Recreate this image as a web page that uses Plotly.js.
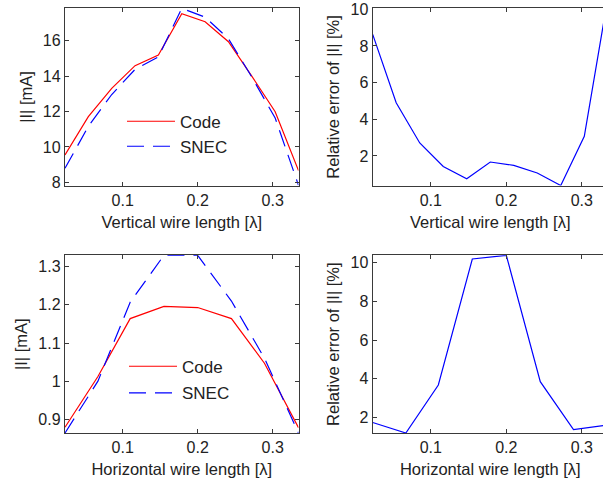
<!DOCTYPE html>
<html><head><meta charset="utf-8">
<script src="https://cdn.plot.ly/plotly-3.0.1.min.js"></script>
<style>html,body{margin:0;padding:0;overflow:hidden;background:#fff}#c{width:610px;height:483px}</style>
</head><body><div id="c"></div>
<script>
// Vertical wire length sweep
var xV = [0.0231,0.0542,0.0854,0.1165,0.1476,0.1788,0.2099,0.2410,0.2721,0.3033,0.3344];
var codeV = [9.55,11.71,13.31,14.59,15.19,17.53,17.07,15.94,14.0,11.99,8.66];
var snecV = [8.79,11.16,12.96,14.38,15.08,17.83,17.33,16.11,13.95,11.63,7.83];
var errV = [8.63,4.9,2.71,1.43,0.76,1.67,1.49,1.07,0.39,3.07,10.6];
// Horizontal wire length sweep
var xH = [0.0231,0.067,0.110,0.155,0.200,0.245,0.289,0.3344];
var codeH = [0.879,1.012,1.164,1.196,1.193,1.164,1.047,0.878];
var snecH = [0.864,1.0,1.207,1.33,1.33,1.21,1.06,0.864];
var errH = [1.74,1.2,3.68,10.19,10.38,3.85,1.37,1.62];
var xTicks = [0.1,0.2,0.3];
var xTitleV = 'Vertical wire length [λ]';
var xTitleH = 'Horizontal wire length [λ]';
var yTitleI = '|I| [mA]';
var yTitleErr = 'Relative error of |I| [%]';

var W = 610, H = 483;
var FONT = 'Liberation Sans, Arial, sans-serif';
var RED = '#ff0000', BLUE = '#0000ff';
var lineW = 1.2, dashB = '17px,9px';

var traces = [
  {x:xV, y:codeV, type:'scatter', mode:'lines', name:'Code', line:{color:RED,width:lineW}, xaxis:'x', yaxis:'y', legend:'legend'},
  {x:xV, y:snecV, type:'scatter', mode:'lines', name:'SNEC', line:{color:BLUE,width:lineW,dash:dashB}, xaxis:'x', yaxis:'y', legend:'legend2'},
  {x:xV, y:errV, type:'scatter', mode:'lines', showlegend:false, line:{color:BLUE,width:lineW}, xaxis:'x2', yaxis:'y2'},
  {x:xH, y:codeH, type:'scatter', mode:'lines', name:'Code', line:{color:RED,width:lineW}, xaxis:'x3', yaxis:'y3', legend:'legend3'},
  {x:xH, y:snecH, type:'scatter', mode:'lines', name:'SNEC', line:{color:BLUE,width:lineW,dash:dashB}, xaxis:'x3', yaxis:'y3', legend:'legend4'},
  {x:xH, y:errH, type:'scatter', mode:'lines', showlegend:false, line:{color:BLUE,width:lineW}, xaxis:'x4', yaxis:'y4'}
];

function ax(extra){
  var a = {showline:true, linecolor:'#3a3a3a', linewidth:1.2, mirror:'allticks', ticks:'inside', ticklen:4,
    tickcolor:'#3a3a3a', tickwidth:1, showgrid:false, zeroline:false, tickfont:{family:FONT,size:16,color:'#222'},
    fixedrange:true};
  for (var k in extra) a[k]=extra[k];
  return a;
}
var L = [65/W, 298.5/W], R = [372.7/W, 607.8/W];
var T = [(H-185.5)/H, (H-8.3)/H], B = [(H-433)/H, (H-255.3)/H];
function xt(t){return {text:t, font:{family:FONT,size:16.5,color:'#222'}, standoff:8};}
function yt(t){return {text:t, font:{family:FONT,size:16.5,color:'#222'}, standoff:6};}

var legCommon = {bgcolor:'rgba(0,0,0,0)', borderwidth:0, font:{family:FONT,size:17,color:'#222'}, xanchor:'left', yanchor:'middle', itemwidth:48, tracegroupgap:0};
function leg(xp, yp){ var o={}; for (var k in legCommon) o[k]=legCommon[k]; o.x=xp/W; o.y=1-yp/H; return o; }

var layout = {
  width:W, height:H, margin:{l:0,r:0,t:0,b:0}, paper_bgcolor:'#fff', plot_bgcolor:'#fff', showlegend:true,
  xaxis: ax({domain:L, anchor:'y', range:[0.0231,0.3344], tickvals:xTicks, title:xt(xTitleV)}),
  yaxis: ax({domain:T, anchor:'x', range:[7.82,17.83], tickvals:[8,10,12,14,16], title:yt(yTitleI)}),
  xaxis2: ax({domain:R, anchor:'y2', range:[0.0231,0.3344], tickvals:xTicks, title:xt(xTitleV)}),
  yaxis2: ax({domain:T, anchor:'x2', range:[0.39,10.05], tickvals:[2,4,6,8,10], title:yt(yTitleErr)}),
  xaxis3: ax({domain:L, anchor:'y3', range:[0.0231,0.3344], tickvals:xTicks, title:xt(xTitleH)}),
  yaxis3: ax({domain:B, anchor:'x3', range:[0.864,1.33], tickvals:[0.9,1,1.1,1.2,1.3], ticktext:['0.9','1','1.1','1.2','1.3'], title:yt(yTitleI)}),
  xaxis4: ax({domain:R, anchor:'y4', range:[0.0231,0.3344], tickvals:xTicks, title:xt(xTitleH)}),
  yaxis4: ax({domain:B, anchor:'x4', range:[1.2,10.38], tickvals:[2,4,6,8,10], title:yt(yTitleErr)}),
  legend: leg(122,121.7),
  legend2: leg(122,146.7),
  legend3: leg(124,366.7),
  legend4: leg(124,393.3)
};
Plotly.newPlot('c', traces, layout, {staticPlot:true, displayModeBar:false});
</script></body></html>
